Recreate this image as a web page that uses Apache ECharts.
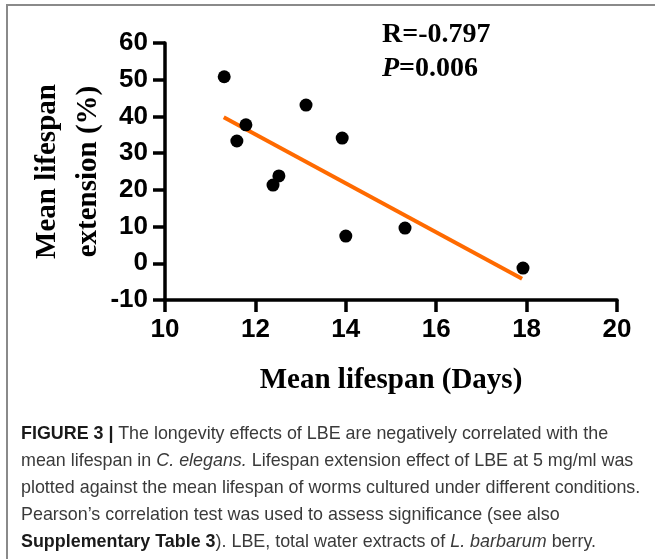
<!DOCTYPE html>
<html>
<head>
<meta charset="utf-8">
<script src="https://cdn.jsdelivr.net/npm/echarts@6/dist/echarts.min.js"></script>
<style>
  html, body { margin: 0; padding: 0; background: #fff; }
  #wrap { position: relative; width: 655px; height: 559px; overflow: hidden; }
  #frame {
    position: absolute; left: 6px; top: 4px; right: -10px; bottom: -10px;
    border-left: 2px solid #8a8a8a; border-top: 2px solid #8a8a8a;
  }
  #chart { position: absolute; left: 0; top: 0; width: 655px; height: 559px; }
  #caption {
    position: absolute; left: 21px; top: 420px; width: 634px;
    font-family: 'Liberation Sans', Arial, sans-serif; font-size: 17.9px;
    line-height: 27px; color: #3a3a3a; white-space: nowrap;
  }
  #caption b { color: #1a1a1a; }
</style>
</head>
<body>
<div id="wrap">
  <div id="frame"></div>
  <div id="chart"></div>
  <div id="caption">
    <b>FIGURE 3 |</b> The longevity effects of LBE are negatively correlated with the<br>
    mean lifespan in <i>C. elegans.</i> Lifespan extension effect of LBE at 5 mg/ml was<br>
    plotted against the mean lifespan of worms cultured under different conditions.<br>
    Pearson’s correlation test was used to assess significance (see also<br>
    <b>Supplementary Table 3</b>). LBE, total water extracts of <i>L. barbarum</i> berry.
  </div>
</div>
<script>
// mean lifespan (days) vs lifespan extension (%)
const meanLifespan = [11.31, 11.59, 11.79, 12.39, 12.52, 13.12, 13.92, 14.0, 15.31, 17.92]
const extension = [50.8, 33.3, 37.7, 21.3, 23.8, 43.1, 34.1, 7.4, 9.6, -1.3]
// fitted line ends
const fitX = [11.3, 17.9]
const fitY = [39.8, -4.2]
const xTicks = { min: 10, max: 20, interval: 2 }
const yTicks = { min: -10, max: 60, interval: 10 }

const serif = "'Liberation Serif', 'Times New Roman', serif"
const sans = "'Liberation Sans', Arial, sans-serif"

const chart = echarts.init(document.getElementById('chart'))

const axisCommon = {
  axisLine: { onZero: false, lineStyle: { color: '#000', width: 3.5 } },
  axisTick: { inside: false, length: 12, lineStyle: { color: '#000', width: 3.5 } },
  splitLine: { show: false },
  axisLabel: { color: '#000', fontFamily: sans, fontWeight: 'bold', fontSize: 26, margin: 17 },
  nameTextStyle: { color: '#000', fontFamily: serif, fontWeight: 'bold', fontSize: 29 },
  nameMoveOverlap: false,
}

chart.setOption({
  animation: false,
  backgroundColor: 'transparent',
  grid: { left: 165, right: 38, top: 43, bottom: 259 },
  xAxis: {
    type: 'value',
    ...xTicks,
    ...axisCommon,
    name: 'Mean lifespan (Days)',
    nameLocation: 'middle',
    nameGap: 66,
  },
  yAxis: {
    type: 'value',
    ...yTicks,
    ...axisCommon,
    name: 'Mean lifespan\nextension (%)',
    nameLocation: 'middle',
    nameGap: 56,
    nameTextStyle: { ...axisCommon.nameTextStyle, lineHeight: 41 },
  },
  series: [
    {
      type: 'line',
      data: fitX.map((x, i) => [x, fitY[i]]),
      symbol: 'none',
      lineStyle: { color: '#ff6a00', width: 4 },
      z: 2,
    },
    {
      type: 'scatter',
      data: meanLifespan.map((x, i) => [x, extension[i]]),
      symbol: 'circle',
      symbolSize: 13,
      itemStyle: { color: '#000', opacity: 1 },
      z: 3,
    },
  ],
  graphic: [
    {
      type: 'text',
      left: 382,
      top: 21,
      style: {
        text: '{n|R=-0.797}\n{i|P}{n|=0.006}',
        rich: {
          n: { fontFamily: serif, fontWeight: 'bold', fontSize: 28, lineHeight: 34, fill: '#000' },
          i: { fontFamily: serif, fontWeight: 'bold', fontStyle: 'italic', fontSize: 28, lineHeight: 34, fill: '#000' },
        },
      },
    },
  ],
})
</script>
</body>
</html>
